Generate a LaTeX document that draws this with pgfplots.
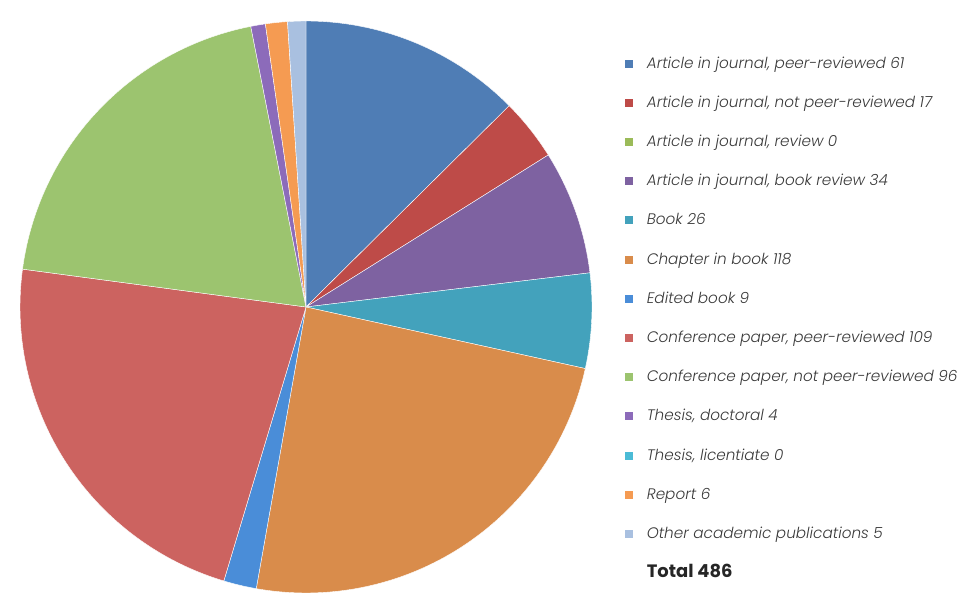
\documentclass[border=0pt]{standalone}
\usepackage{pgfplots}
\pgfplotsset{compat=1.18}
\usepackage{fontspec}
\setmainfont{Poppins}[UprightFont=* Light, ItalicFont=* Light Italic, BoldFont=* Bold, BoldItalicFont=* Bold Italic]
\definecolor{c1}{HTML}{4F7DB5}
\definecolor{c2}{HTML}{BE4B48}
\definecolor{c3}{HTML}{9BBB59}
\definecolor{c4}{HTML}{7E62A1}
\definecolor{c5}{HTML}{43A2BC}
\definecolor{c6}{HTML}{D98C4B}
\definecolor{c7}{HTML}{4A8DD8}
\definecolor{c8}{HTML}{CC6360}
\definecolor{c9}{HTML}{9CC46F}
\definecolor{c10}{HTML}{8C6BBA}
\definecolor{c11}{HTML}{4BBBD6}
\definecolor{c12}{HTML}{F59B52}
\definecolor{c13}{HTML}{A9C0E0}
\definecolor{txt}{HTML}{3A3A3A}
\def\total{485}
\gdef\cum{0}
\newcommand\slice[2]{%
  \pgfmathsetmacro\angA{90-(\cum+#1)/\total*360}%
  \pgfmathsetmacro\angB{90-\cum/\total*360}%
  \edef\temp{\noexpand\addplot[fill=#2, draw=white, line width=0.4pt, domain=\angA:\angB, samples=80, forget plot] ({cos(x)},{sin(x)}) -- (axis cs:0,0) -- cycle;}%
  \temp
  \pgfmathsetmacro\tmpc{\cum+#1}%
  \xdef\cum{\tmpc}%
}
\pgfplotsset{sq/.style={legend image code/.code={\fill[#1, draw=none] (0bp,-4bp) rectangle (8bp,4bp); \path[draw=none, fill=none] (0bp,0bp) -- (22bp,0bp);}}}
\begin{document}
\begin{tikzpicture}
\useasboundingbox (0,0) rectangle (969bp,605bp);
\begin{axis}[
  at={(20bp,12bp)}, anchor=south west,
  scale only axis, width=572bp, height=572bp,
  xmin=-1, xmax=1, ymin=-1, ymax=1,
  hide axis, clip=false,
  legend cell align=left,
  legend style={at={(1.057,0.9406)}, anchor=north west, draw=none, fill=none,
    inner sep=0pt, row sep=22.2bp, text=txt,
    font=\itshape\fontsize{15.3}{18}\selectfont,
    nodes={inner sep=0pt, text height=13bp, text depth=4bp}},
]
\slice{61}{c1}
\slice{17}{c2}
\slice{34}{c4}
\slice{26}{c5}
\slice{118}{c6}
\slice{9}{c7}
\slice{109}{c8}
\slice{96}{c9}
\slice{4}{c10}
\slice{6}{c12}
\slice{5}{c13}
\addlegendimage{sq=c1}\addlegendentry{Article in journal, peer-reviewed 61}
\addlegendimage{sq=c2}\addlegendentry{Article in journal, not peer-reviewed 17}
\addlegendimage{sq=c3}\addlegendentry{Article in journal, review 0}
\addlegendimage{sq=c4}\addlegendentry{Article in journal, book review 34}
\addlegendimage{sq=c5}\addlegendentry{Book 26}
\addlegendimage{sq=c6}\addlegendentry{Chapter in book 118}
\addlegendimage{sq=c7}\addlegendentry{Edited book 9}
\addlegendimage{sq=c8}\addlegendentry{Conference paper, peer-reviewed 109}
\addlegendimage{sq=c9}\addlegendentry{Conference paper, not peer-reviewed 96}
\addlegendimage{sq=c10}\addlegendentry{Thesis, doctoral 4}
\addlegendimage{sq=c11}\addlegendentry{Thesis, licentiate 0}
\addlegendimage{sq=c12}\addlegendentry{Report 6}
\addlegendimage{sq=c13}\addlegendentry{Other academic publications 5}
\addlegendimage{empty legend}\addlegendentry{\upshape\bfseries\fontsize{18}{20}\selectfont\color{black!85}Total 486}
\end{axis}
\end{tikzpicture}
\end{document}
